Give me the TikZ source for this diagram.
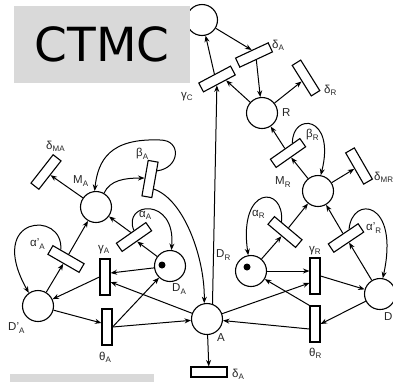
\documentclass[tikz,border=0pt]{standalone}
\usepackage{fontspec}
\setmainfont{Liberation Sans}
\newfontfamily\djv{DejaVu Sans}
\usetikzlibrary{arrows.meta,calc}
\definecolor{boxgray}{RGB}{217,217,217}
\newcommand\mysub[1]{\raisebox{-0.35ex}{\fontsize{8pt}{8pt}\selectfont #1}}
\begin{document}
\begin{tikzpicture}[x=1pt,y=-1pt,
 place/.style={circle,draw,line width=1.1pt,minimum size=31pt,inner sep=0pt},
 trans/.style={rectangle,draw,fill=white,line width=1.1pt,minimum width=36pt,minimum height=10pt,inner sep=0pt},
 vtrans/.style={rectangle,draw,fill=white,line width=1.1pt,minimum width=10pt,minimum height=36pt,inner sep=0pt},
 lbl/.style={anchor=west,inner sep=0pt,font=\fontsize{11.5pt}{11.5pt}\selectfont,text=black!85},
 arr/.style={line width=1pt,-{Stealth[length=6.5pt,width=5pt]}},
 token/.style={circle,fill=black,minimum size=7pt,inner sep=0pt}]
\useasboundingbox (0,0) rectangle (393,381);
% places
\node[place] (Ptop) at (202,20) {};
\node[place] (R) at (262,113) {};
\node[place] (MR) at (318,191) {};
\node[place] (DR) at (251,271) {};
\node[place] (DpR) at (380,294) {};
\node[place] (A) at (207,319) {};
\node[place] (MA) at (96,207) {};
\node[place] (DA) at (170,266) {};
\node[place] (DpA) at (38,306) {};
\node[token] (tokDR) at (247,267) {};
\node[token] (tokDA) at (162,265) {};
% transitions
\node[trans,rotate=25] (dAt) at (254,55) {};
\node[trans,rotate=28] (gC) at (217,79) {};
\node[trans,rotate=-58] (dR) at (306,78) {};
\node[trans,rotate=35] (bR) at (288,153) {};
\node[trans,rotate=-60] (dM) at (359,166) {};
\node[trans,rotate=-40] (aR) at (285,232) {};
\node[trans,rotate=34] (apR) at (346,238) {};
\node[vtrans] (gR) at (315,276) {};
\node[vtrans] (thR) at (315,324) {};
\node[trans] (dAb) at (209,372) {};
\node[vtrans] (gA) at (105,277) {};
\node[vtrans] (thA) at (107,327) {};
\node[trans,rotate=-30] (apA) at (66,259) {};
\node[trans,rotate=35] (aA) at (134,237) {};
\node[trans,rotate=80] (bA) at (150,179) {};
\node[trans,rotate=52] (dMA) at (46,172) {};
% arcs
\draw[arr] (gC.north) -- (Ptop);
\draw[arr] (Ptop) -- (dAt.north);
\draw[arr] (dAt.south) -- (R);
\draw[arr] (R) -- ($(gC.south)!0.4!(gC.south east)$);
\draw[arr] (R) -- (dR);
\draw[arr] (A.70) -- (gC);
\draw[arr] (bR.north) -- (R);
\draw[arr] (MR) -- (bR.south);
\draw[arr] ($(bR.north)!0.5!(bR.north east)$) .. controls (292,112) and (336,115) .. (MR.80);
\draw[arr] (MR) -- (dM);
\draw[arr] (aR.north) -- (MR);
\draw[arr] (DR) -- (aR.south);
\draw[arr] ($(aR.north)!0.5!(aR.north west)$) .. controls (285,185) and (238,185) .. (DR.100);
\draw[arr] (apR.north) -- (MR);
\draw[arr] (DpR) -- (apR.south);
\draw[arr] ($(apR.north)!0.4!(apR.north east)$) .. controls (352,195) and (400,200) .. (DpR.80);
\draw[arr] (DR) -- (DR -| gR.west);
\draw[arr] (gR.east) -- (DpR);
\draw[arr] (DpR) -- (thR.east);
\draw[arr] ($(thR.west)+(0,5)$) -- (A);
\draw[arr] (thR.north west) -- (DR);
\draw[arr] (A) -- ($(gR.west)+(0,7)$);
\draw[arr] (A) -- (dAb);
\draw[arr] (MA) -- (dMA);
\draw[arr] (MA.60) .. controls (110,180) and (125,178) .. (bA.north);
\draw[arr] ($(bA.south)!0.5!(bA.south east)$) .. controls (180,168) and (182,140) .. (160,140) .. controls (110,138) and (98,160) .. (MA.95);
\draw[arr] ($(bA.south)!0.5!(bA.south west)$) .. controls (185,200) and (205,260) .. (A.100);
\draw[arr] (aA.north) -- (MA);
\draw[arr] (DA) -- (aA.south);
\draw[arr] ($(aA.north)!0.2!(aA.north east)$) .. controls (122,202) and (176,196) .. (DA.85);
\draw[arr] (DA) -- ($(gA.east)+(0,-4)$);
\draw[arr] (A) -- ($(gA.east)+(0,5)$);
\draw[arr] (gA.west) -- (DpA);
\draw[arr] (DpA) -- ($(thA.west)+(0,-4)$);
\draw[arr] (thA.east) -- (DA);
\draw[arr] (thA.east) -- (A);
\draw[arr] (DpA) -- (apA.south);
\draw[arr] (apA.north) -- (MA);
\draw[arr] ($(apA.north)!0.5!(apA.north west)$) .. controls (64,210) and (-15,215) .. (DpA.125);
% labels
\node[lbl] (ldAt) at (272,45) {δ\mysub{A}};
\node[lbl] (lgC) at (181,97) {γ\mysub{C}};
\node[lbl] (ldR) at (324,90) {δ\mysub{R}};
\node[lbl] (lR) at (282,113) {R};
\node[lbl] (lbR) at (306,135) {β\mysub{R}};
\node[lbl] (lMR) at (275,182) {M\mysub{R}};
\node[lbl] (ldM) at (374,177) {δ\mysub{MR}};
\node[lbl] (laR) at (252,214) {α\mysub{R}};
\node[lbl] (lapR) at (366,228) {α'\mysub{R}};
\node[lbl] (lgR) at (309,251) {γ\mysub{R}};
\node[lbl] (lDR) at (216,255) {D\mysub{R}};
\node[lbl] (lthR) at (309,353) {θ\mysub{R}};
\node[lbl] (lDpR) at (384,318) {D'\mysub{R}};
\node[lbl] (lA) at (217,338) {A};
\node[lbl] (ldAb) at (232,374) {δ\mysub{A}};
\node[lbl] (lMA) at (73,181) {M\mysub{A}};
\node[lbl] (ldMA) at (46,146) {δ\mysub{MA}};
\node[lbl] (lbA) at (136,154) {β\mysub{A}};
\node[lbl] (laA) at (139,215) {α\mysub{A}};
\node[lbl] (lapA) at (30,244) {α'\mysub{A}};
\node[lbl] (lgA) at (98,250) {γ\mysub{A}};
\node[lbl] (lDA) at (172,289) {D\mysub{A}};
\node[lbl] (lDpA) at (8,328) {D'\mysub{A}};
\node[lbl] (lthA) at (99,357) {θ\mysub{A}};
% overlays
\node[fill=boxgray,minimum width=176pt,minimum height=77pt,inner sep=0pt,font=\djv\fontsize{47pt}{47pt}\selectfont] (ctmc) at (102,44.5) {CTMC};
\node[fill=boxgray,minimum width=144pt,minimum height=10pt,inner sep=0pt] (bar) at (82,379) {};
\end{tikzpicture}
\end{document}
